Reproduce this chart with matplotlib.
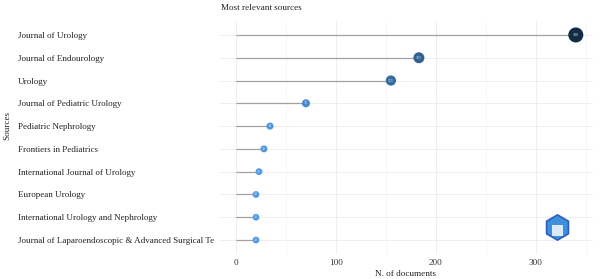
import matplotlib

matplotlib.use("Agg")
import matplotlib.pyplot as plt
import numpy as np
from matplotlib.colors import LinearSegmentedColormap, Normalize

sources = [
    "Journal of Urology",
    "Journal of Endourology",
    "Urology",
    "Journal of Pediatric Urology",
    "Pediatric Nephrology",
    "Frontiers in Pediatrics",
    "International Journal of Urology",
    "European Urology",
    "International Urology and Nephrology",
    "Journal of Laparoendoscopic & Advanced Surgical Te",
]
documents = [340, 183, 155, 70, 34, 28, 23, 20, 20, 20]
x_ticks = [0, 100, 200, 300]

plt.rcParams["font.family"] = ["Liberation Serif", "DejaVu Serif"]

fig = plt.figure(figsize=(6, 2.79), dpi=100)
ax = fig.add_axes([0.365, 0.0907, 0.623, 0.833])

vals = np.array(documents)
ypos = np.arange(len(sources))[::-1]
cmap = LinearSegmentedColormap.from_list("g", ["#4d9ae6", "#132B43"])
norm = Normalize(vals.min(), vals.max())
colors = cmap(norm(vals))
diam_px = 6.2 + vals * 0.026
sizes = (diam_px * 0.72) ** 2

ax.hlines(ypos, 0, vals, color="#a0a0a0", lw=0.9, zorder=2)
ax.scatter(vals, ypos, s=sizes, c=colors, zorder=3, edgecolors="none")
for v, y in zip(vals, ypos):
    ax.text(v, y, str(v), ha="center", va="center", fontsize=2.8,
            color="#dde8f5", zorder=4)

ax.set_xlim(-17, 357)
ax.set_ylim(-0.6, len(sources) - 0.4)
ax.set_xticks(x_ticks)
ax.set_xticks([50, 150, 250, 350], minor=True)
ax.set_yticks(ypos)
ax.set_yticklabels(sources)
ax.tick_params(axis="y", length=0, pad=145, labelsize=6.5, labelcolor="#222222")
ax.tick_params(axis="x", which="both", length=0, pad=4, labelsize=6.6,
               labelcolor="#333333")
for lab in ax.get_yticklabels():
    lab.set_ha("left")
ax.grid(True, which="major", color="#ebebeb", lw=0.6)
ax.grid(True, which="minor", axis="x", color="#f3f3f3", lw=0.5)
ax.set_axisbelow(True)
for s in ax.spines.values():
    s.set_visible(False)

ax.set_xlabel("N. of documents", fontsize=6.6, color="#222222", labelpad=2)
fig.text(0.012, 0.55, "Sources", rotation=90, fontsize=6.6, color="#222222",
         ha="center", va="center")
fig.text(0.368, 0.985, "Most relevant sources", fontsize=6.6, color="#222222",
         ha="left", va="top")

# logo
ax.scatter([0.905], [0.115], s=330, marker="h", transform=ax.transAxes,
           facecolor="#3f8fdc", edgecolor="#2c5fbf", lw=1.2, zorder=5,
           clip_on=False)
ax.scatter([0.905], [0.10], s=60, marker="s", transform=ax.transAxes,
           facecolor="#dbeafa", edgecolor="none", zorder=6, clip_on=False)

fig.savefig("out.png", dpi=100)
